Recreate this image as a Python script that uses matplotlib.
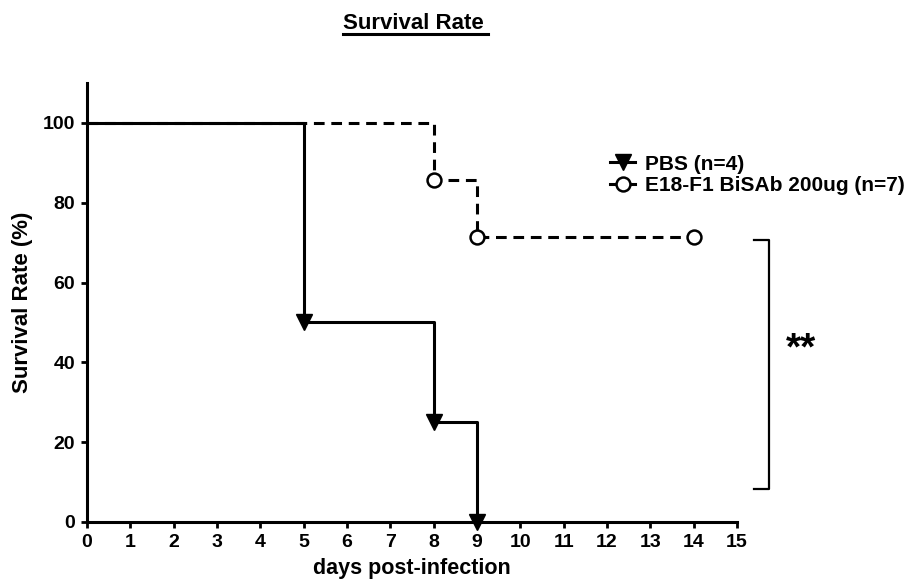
import matplotlib
matplotlib.use("Agg")
import matplotlib.pyplot as plt
from matplotlib.lines import Line2D

plt.rcParams['font.family'] = ['Liberation Sans', 'DejaVu Sans']
plt.rcParams['font.weight'] = 'bold'

# Kaplan-Meier step data
pbs_days = [0, 5, 8, 9]
pbs_surv = [100, 50, 25, 0]
pbs_event_days = [5, 8, 9]
pbs_event_surv = [50, 25, 0]

bisab_days = [0, 8, 9, 14]
bisab_surv = [100, 85.7, 71.4, 71.4]
bisab_event_days = [8, 9, 14]
bisab_event_surv = [85.7, 71.4, 71.4]

labels = ['PBS (n=4)', 'E18-F1 BiSAb 200ug (n=7)']
x_ticks = list(range(0, 16))
y_ticks = [0, 20, 40, 60, 80, 100]

fig = plt.figure(figsize=(9.15, 5.84), dpi=100)
ax = fig.add_axes([0.0951, 0.1062, 0.7104, 0.7517])

dash = (0, (3.5, 2.2))
ax.step(pbs_days, pbs_surv, where='post', color='black', lw=2.2, clip_on=False)
ax.plot(pbs_event_days, pbs_event_surv, 'v', color='black', ms=11, clip_on=False,
        zorder=5)
ax.step(bisab_days, bisab_surv, where='post', color='black', lw=2.2,
        ls=dash, clip_on=False)
ax.plot(bisab_event_days, bisab_event_surv, 'o', mfc='white', mec='black',
        mew=1.8, ms=10, clip_on=False, zorder=5)

# legend
handles = [
    Line2D([], [], color='black', lw=2.2, marker='v', ms=11),
    Line2D([], [], color='black', lw=2.2, marker='o', mfc='white', mec='black',
           mew=1.8, ms=10),
]
fig.legend(handles, labels, loc='upper left', bbox_to_anchor=(0.667, 0.735),
           frameon=False, handletextpad=0.45, labelspacing=0.1,
           handlelength=1.2, borderaxespad=0, borderpad=0,
           prop={'weight': 'bold', 'size': 15})

ax.set_xlim(0, 15)
ax.set_ylim(0, 110)
ax.set_xticks(x_ticks)
ax.set_yticks(y_ticks)
ax.tick_params(labelsize=14, width=2, length=4)
ax.tick_params(axis='x', pad=4.5)
ax.tick_params(axis='y', pad=4.5)
for s in ['top', 'right']:
    ax.spines[s].set_visible(False)
for s in ['left', 'bottom']:
    ax.spines[s].set_linewidth(2.2)

ax.set_xlabel('days post-infection', fontsize=15.5, fontweight='bold', labelpad=5)
ax.set_ylabel('Survival Rate (%)', fontsize=16, fontweight='bold', labelpad=7)

fig.text(0.452, 0.960, 'Survival Rate', ha='center', va='center', fontsize=16,
         fontweight='bold')
fig.add_artist(Line2D([0.375, 0.533], [0.941, 0.941], color='black', lw=2.2))

# significance bracket
fig.add_artist(Line2D([0.824, 0.8404, 0.8404, 0.824], [0.589, 0.589, 0.1627, 0.1627],
                      color='black', lw=1.6))
fig.text(0.8754, 0.402, '**', ha='center', va='center', fontsize=28,
         fontweight='bold')

fig.savefig('out.png', dpi=100)
